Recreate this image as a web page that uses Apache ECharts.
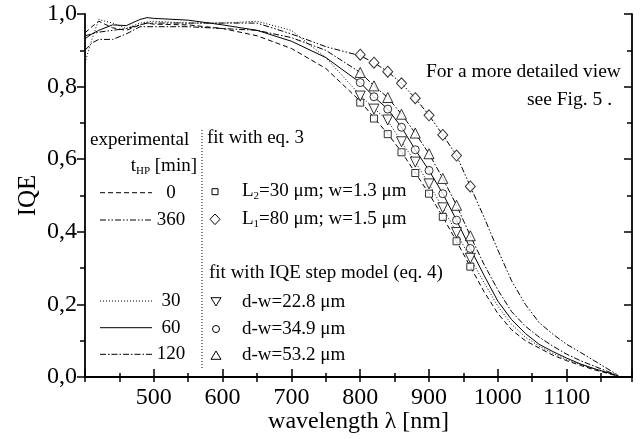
<!DOCTYPE html>
<html>
<head>
<meta charset="utf-8">
<script src="https://cdn.jsdelivr.net/npm/echarts@6/dist/echarts.min.js"></script>
<style>
html,body{margin:0;padding:0;background:#fff;}
#chart{width:644px;height:439px;}
</style>
</head>
<body>
<div id="chart"></div>
<script>
// ---- data ----
const lambdaExp = [400,410,420,440,460,480,490,500,550,600,650,700,750,800,820,840,860,880,900,920,940,960,980,1000,1020,1040,1060,1080,1100,1120,1140,1160,1175];
const iqe0   = [0.948,0.965,0.980,0.962,0.955,0.970,0.975,0.972,0.970,0.960,0.940,0.905,0.850,0.760,0.714,0.670,0.620,0.563,0.505,0.441,0.374,0.304,0.235,0.175,0.130,0.100,0.080,0.060,0.045,0.032,0.020,0.010,0.002];
const iqe30  = [0.866,0.930,0.985,0.975,0.960,0.975,0.978,0.980,0.975,0.975,0.980,0.955,0.880,0.776,0.740,0.706,0.648,0.592,0.532,0.466,0.398,0.327,0.260,0.195,0.145,0.110,0.085,0.065,0.048,0.035,0.022,0.011,0.002];
const iqe60  = [0.932,0.945,0.955,0.970,0.968,0.985,0.990,0.988,0.983,0.970,0.955,0.925,0.880,0.811,0.772,0.738,0.688,0.626,0.569,0.505,0.432,0.354,0.280,0.209,0.158,0.120,0.090,0.070,0.052,0.036,0.023,0.012,0.003];
const iqe120 = [0.900,0.920,0.930,0.930,0.945,0.965,0.965,0.965,0.965,0.960,0.955,0.935,0.900,0.839,0.802,0.770,0.724,0.672,0.615,0.547,0.473,0.389,0.310,0.240,0.180,0.140,0.110,0.085,0.063,0.045,0.030,0.015,0.004];
const iqe360 = [0.940,0.945,0.950,0.955,0.960,0.970,0.975,0.975,0.975,0.975,0.975,0.945,0.910,0.885,0.866,0.841,0.809,0.768,0.721,0.667,0.610,0.525,0.440,0.350,0.265,0.200,0.150,0.118,0.090,0.068,0.045,0.022,0.005];

const lambdaFit = [800,820,840,860,880,900,920,940,960];
const fitL2  = [0.756,0.712,0.669,0.619,0.562,0.505,0.441,0.374,0.304];
const fitL1  = [0.888,0.866,0.841,0.809,0.768,0.721,0.667,0.610,0.525];
const fitD228 = [0.774,0.738,0.708,0.648,0.592,0.532,0.466,0.398,0.327];
const fitD349 = [0.811,0.772,0.738,0.688,0.626,0.569,0.505,0.432,0.354];
const fitD532 = [0.839,0.802,0.770,0.724,0.672,0.615,0.547,0.473,0.389];

const xTicks = [500,600,700,800,900,1000,1100];
const yTicks = [0,0.2,0.4,0.6,0.8,1.0];

const expLabels = ['0','360','30','60','120'];
const fitLabels = ['L₂=30 μm; w=1.3 μm','L₁=80 μm; w=1.5 μm','d-w=22.8 μm','d-w=34.9 μm','d-w=53.2 μm'];

// ---- styles ----
const FONT = 'Liberation Serif';
const dash0 = [5,3];
const dot30 = [1,2];
const dash120 = [6,2,1.5,2];
const dash360 = [6,2,1.5,2,1.5,2];

const zip = (xs, ys) => xs.map((x,i) => [x, ys[i]]);

function lineSeries(name, ys, dash) {
  return { name, type:'line', data: zip(lambdaExp, ys), symbol:'none', smooth:false,
    lineStyle:{ color:'#000', width:1, type: dash }, z:2 };
}
function fitSeries(name, ys, symbol, size, rot) {
  return { name, type:'scatter', data: zip(lambdaFit, ys), symbol, symbolSize:size, symbolRotate: rot||0,
    itemStyle:{ color:'#fff', borderColor:'#000', borderWidth:1 }, z:3 };
}

const chart = echarts.init(document.getElementById('chart'), null, {renderer:'canvas'});

const axisLine = { show:true, lineStyle:{ color:'#000', width:1.8 } };
const txt = (t, x, y, opts) => ({ type:'text', x, y, style: Object.assign({ text:t, font:'19px "' + FONT + '"', fill:'#000', textVerticalAlign:'middle' }, opts||{}) });
const hline = (x1, x2, y, dash) => ({ type:'line', shape:{x1, y1:y, x2, y2:y}, style:{ stroke:'#000', lineWidth:1, lineDash: dash } });

const graphics = [
  txt('experimental', 90, 140),
  { type:'text', x:197, y:166, style:{ rich:{ a:{font:'19px "'+FONT+'"'}, s:{font:'11px "'+FONT+'"', padding:[10,0,0,0]} }, text:'{a|t}{s|HP}{a| [min]}', align:'right', textAlign:'right', textVerticalAlign:'middle', fill:'#000' } },
  hline(100,152,192.7,dash0), txt(expLabels[0],171,192.7,{textAlign:'center'}),
  hline(100,152,220,dash360), txt(expLabels[1],171,220,{textAlign:'center'}),
  hline(100,152,301,dot30), txt(expLabels[2],171,301,{textAlign:'center'}),
  hline(100,152,327.7,null), txt(expLabels[3],171,327.7,{textAlign:'center'}),
  hline(100,152,354.3,dash120), txt(expLabels[4],171,354.3,{textAlign:'center'}),
  { type:'line', shape:{x1:202,y1:130,x2:202,y2:368}, style:{ stroke:'#000', lineWidth:1, lineDash:[1,2] } },
  txt('fit with eq. 3', 207, 138),
  { type:'rect', shape:{x:212, y:188.7, width:6, height:6}, style:{ fill:'#fff', stroke:'#000', lineWidth:1 } },
  { type:'text', x:242, y:191, style:{ rich:{ a:{font:'19px "'+FONT+'"'}, s:{font:'11px "'+FONT+'"', padding:[10,0,0,0]} }, text:'{a|L}{s|2}{a|=30 μm; w=1.3 μm}', textVerticalAlign:'middle', fill:'#000' } },
  { type:'polygon', shape:{points:[[215,214],[220,219.3],[215,224.6],[210,219.3]]}, style:{ fill:'#fff', stroke:'#000', lineWidth:1 } },
  { type:'text', x:242, y:219.3, style:{ rich:{ a:{font:'19px "'+FONT+'"'}, s:{font:'11px "'+FONT+'"', padding:[10,0,0,0]} }, text:'{a|L}{s|1}{a|=80 μm; w=1.5 μm}', textVerticalAlign:'middle', fill:'#000' } },
  txt('fit with IQE step model (eq. 4)', 209, 273.3),
  { type:'polygon', shape:{points:[[211,297.7],[221,297.7],[216,306]]}, style:{ fill:'#fff', stroke:'#000', lineWidth:1 } },
  txt(fitLabels[2], 242, 301.7),
  { type:'circle', shape:{cx:216, cy:329, r:3.5}, style:{ fill:'#fff', stroke:'#000', lineWidth:1 } },
  txt(fitLabels[3], 242, 329),
  { type:'polygon', shape:{points:[[216,351],[221,359.3],[211,359.3]]}, style:{ fill:'#fff', stroke:'#000', lineWidth:1 } },
  txt(fitLabels[4], 242, 355),
  txt('For a more detailed view', 426, 72, {font:'19.5px "' + FONT + '"'}),
  txt('see Fig. 5 .', 612, 100, {textAlign:'right', font:'19.5px "' + FONT + '"'})
];

const option = {
  backgroundColor:'#fff',
  animation:false,
  grid:{ left:85, right:12, top:14, bottom:60, containLabel:false },
  xAxis:[
    { type:'value', position:'bottom', min:400, max:1195, interval:100,
      name:'wavelength λ [nm]', nameLocation:'middle', nameGap:33, nameMoveOverlap:false,
      nameTextStyle:{ fontFamily:FONT, fontSize:24, color:'#000' },
      axisLine, axisTick:{ show:true, inside:true, length:8, lineStyle:{color:'#000', width:1.5} },
      minorTick:{ show:true, splitNumber:2, length:4, lineStyle:{color:'#000', width:1.5} },
      axisLabel:{ fontFamily:FONT, fontSize:24, color:'#000', margin:9,
        formatter: v => xTicks.indexOf(v) >= 0 ? String(v) : '' },
      splitLine:{ show:false } },
    { type:'value', position:'top', min:400, max:1195, interval:50,
      axisLine, axisTick:{ show:true, inside:true, length:5, lineStyle:{color:'#000', width:1.5} },
      axisLabel:{ show:false }, splitLine:{ show:false } }
  ],
  yAxis:[
    { type:'value', position:'left', min:0, max:1, interval:0.2,
      name:'IQE', nameLocation:'middle', nameGap:44, nameRotate:90, nameMoveOverlap:false,
      nameTextStyle:{ fontFamily:FONT, fontSize:25, color:'#000' },
      axisLine, axisTick:{ show:true, inside:false, length:8, lineStyle:{color:'#000', width:1.5} },
      minorTick:{ show:true, splitNumber:2, length:5, lineStyle:{color:'#000', width:1.5} },
      axisLabel:{ fontFamily:FONT, fontSize:24, color:'#000', margin:8,
        formatter: v => yTicks.some(t => Math.abs(t - v) < 1e-6) ? v.toFixed(1).replace('.', ',') : '' },
      splitLine:{ show:false } },
    { type:'value', position:'right', min:0, max:1, interval:0.2,
      axisLine, axisTick:{ show:true, inside:true, length:8, lineStyle:{color:'#000', width:1.5} },
      minorTick:{ show:true, splitNumber:2, length:5, lineStyle:{color:'#000', width:1.5} },
      axisLabel:{ show:false }, splitLine:{ show:false } }
  ],
  series:[
    lineSeries('0', iqe0, dash0),
    lineSeries('360', iqe360, dash360),
    lineSeries('30', iqe30, dot30),
    lineSeries('60', iqe60, 'solid'),
    lineSeries('120', iqe120, dash120),
    fitSeries('L2=30 μm; w=1.3 μm', fitL2, 'rect', 7),
    fitSeries('L1=80 μm; w=1.5 μm', fitL1, 'diamond', [10,11]),
    fitSeries('d-w=22.8 μm', fitD228, 'triangle', 10, 180),
    fitSeries('d-w=34.9 μm', fitD349, 'circle', 8),
    fitSeries('d-w=53.2 μm', fitD532, 'triangle', 10)
  ],
  graphic: graphics
};
chart.setOption(option);
</script>
</body>
</html>
